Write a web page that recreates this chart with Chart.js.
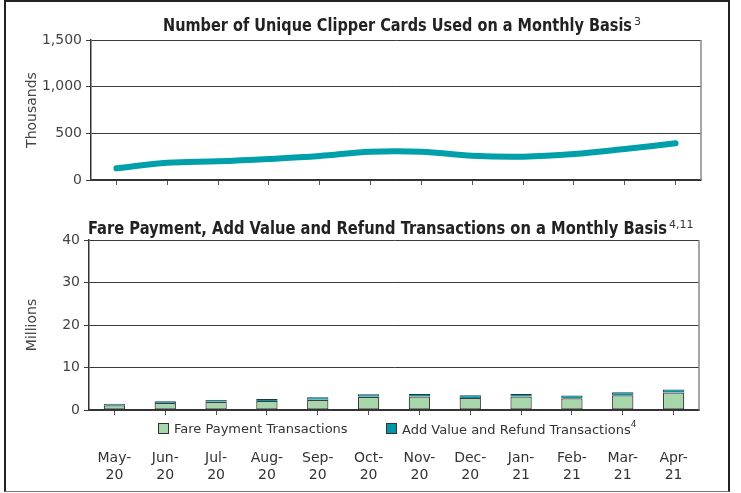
<!DOCTYPE html>
<html>
<head>
<meta charset="utf-8">
<script src="https://cdn.jsdelivr.net/npm/chart.js@4.4.0/dist/chart.umd.min.js"></script>
<style>
  html, body { margin: 0; padding: 0; background: #fff; }
  #wrap { position: relative; width: 741px; height: 493px; overflow: hidden; background: #fff; }
  canvas { position: absolute; left: 0; }
  #frame {
    position: absolute; left: 4px; top: 0; width: 722px; height: 489px;
    border: 2px solid #222; border-bottom: 1px solid #777; pointer-events: none;
  }
  .legend { position: absolute; top: 421px; font: 13px "DejaVu Sans", sans-serif; color: #333; white-space: nowrap; }
  .legend .box { position: absolute; top: 2px; width: 9px; height: 9px; border: 1px solid #333; }
  .legend span.txt { position: absolute; top: 0; }
  .legend sup { font-size: 9px; position: relative; top: -2px; }
</style>
</head>
<body>
<div id="wrap">
  <canvas id="cards" width="741" height="200" style="top:0"></canvas>
  <canvas id="trans" width="741" height="298" style="top:195px"></canvas>
  <div class="legend" id="legend"></div>
  <div id="frame"></div>
</div>
<script>
// Datos
const months = [
  ['May-', '20'], ['Jun-', '20'], ['Jul-', '20'], ['Aug-', '20'],
  ['Sep-', '20'], ['Oct-', '20'], ['Nov-', '20'], ['Dec-', '20'],
  ['Jan-', '21'], ['Feb-', '21'], ['Mar-', '21'], ['Apr-', '21']
];
// tarjetas unicas (miles)
const uniqueCards = [125, 185, 200, 225, 257, 303, 303, 260, 250, 278, 332, 393];
// transacciones (millones)
const farePayments = [1.1, 1.65, 1.95, 2.1, 2.4, 3.1, 3.15, 2.8, 3.15, 2.75, 3.45, 4.1];
const addValueRefunds = [0.35, 0.4, 0.4, 0.5, 0.6, 0.6, 0.6, 0.65, 0.6, 0.65, 0.7, 0.75];

const titleTop = 'Number of Unique Clipper Cards Used on a Monthly Basis';
const titleBottom = 'Fare Payment, Add Value and Refund Transactions on a Monthly Basis';

const tickFont = { family: '"DejaVu Sans", sans-serif', size: 14 };
const gridColor = '#3a3a3a';
const fareColor = '#a8d5aa';
const addColor = '#0098a8';
const lineColor = '#00a0aa';

// Titulo condensado con superindice
const supTitle = {
  id: 'supTitle',
  afterDraw(chart, args, opts) {
    const ctx = chart.ctx;
    ctx.save();
    ctx.font = 'bold 18px "Liberation Sans Narrow", "DejaVu Sans Condensed", sans-serif';
    ctx.fillStyle = '#222';
    ctx.textBaseline = 'alphabetic';
    const w = ctx.measureText(opts.text).width;
    const sx = opts.width / w;
    ctx.translate(opts.x, opts.y);
    ctx.scale(sx, 1);
    ctx.fillText(opts.text, 0, 0);
    ctx.restore();
    ctx.save();
    ctx.font = '11px "DejaVu Sans", sans-serif';
    ctx.fillStyle = '#333';
    ctx.fillText(opts.sup, opts.x + opts.width + 2, opts.y - 6);
    ctx.restore();
  }
};

// Borde derecho del area del grafico
const rightBorder = {
  id: 'rightBorder',
  afterDraw(chart) {
    const a = chart.chartArea;
    const ctx = chart.ctx;
    ctx.save();
    ctx.strokeStyle = '#888';
    ctx.lineWidth = 1.5;
    ctx.beginPath();
    ctx.moveTo(a.right, a.top);
    ctx.lineTo(a.right, a.bottom);
    ctx.stroke();
    ctx.restore();
  }
};

function yAxis(max, step, width, title, fmt) {
  return {
    min: 0, max: max,
    ticks: { stepSize: step, padding: 4, color: '#444', font: tickFont, callback: fmt },
    grid: { color: gridColor, lineWidth: 1, tickLength: 5, drawTicks: true },
    border: { color: '#333', width: 1.5 },
    title: { display: true, text: title, color: '#444', font: tickFont, padding: { top: 24, bottom: 0 } },
    afterFit(scale) { scale.width = width; }
  };
}

new Chart(document.getElementById('cards'), {
  type: 'line',
  data: {
    labels: months,
    datasets: [{
      data: uniqueCards,
      borderColor: lineColor,
      borderWidth: 6,
      borderCapStyle: 'round',
      borderJoinStyle: 'round',
      tension: 0.35,
      pointRadius: 0,
      fill: false
    }]
  },
  options: {
    responsive: false,
    animation: false,
    devicePixelRatio: 1,
    layout: { padding: { top: 40, right: 40, left: 0, bottom: 0 } },
    plugins: {
      legend: { display: false },
      tooltip: { enabled: false },
      supTitle: { text: titleTop, sup: '3', x: 163, y: 31, width: 469 }
    },
    scales: {
      x: {
        offset: true,
        ticks: { display: false },
        grid: { offset: false, drawOnChartArea: false, drawTicks: true, tickLength: 5, color: '#555' },
        border: { color: '#333', width: 1.5 },
        afterFit(scale) { scale.height = 20; }
      },
      y: yAxis(1500, 500, 91, 'Thousands', v => v.toLocaleString('en-US'))
    }
  },
  plugins: [supTitle, rightBorder]
});

new Chart(document.getElementById('trans'), {
  type: 'bar',
  data: {
    labels: months,
    datasets: [
      {
        label: 'Fare Payment Transactions',
        data: farePayments,
        backgroundColor: fareColor,
        borderColor: '#3d3d3d',
        borderWidth: 1.2,
        borderSkipped: false
      },
      {
        label: 'Add Value and Refund Transactions',
        data: addValueRefunds,
        backgroundColor: addColor,
        borderColor: '#1d3b3d',
        borderWidth: { top: 1, left: 1, right: 1, bottom: 0 },
        borderSkipped: false
      }
    ]
  },
  options: {
    responsive: false,
    animation: false,
    devicePixelRatio: 1,
    layout: { padding: { top: 45, right: 42, left: 0, bottom: 0 } },
    datasets: { bar: { barPercentage: 0.42, categoryPercentage: 1.0 } },
    plugins: {
      legend: { display: false },
      tooltip: { enabled: false },
      supTitle: { text: titleBottom, sup: '4,11', x: 88, y: 39, width: 579 }
    },
    scales: {
      x: {
        stacked: true,
        offset: true,
        ticks: { color: '#333', font: tickFont, padding: 35, maxRotation: 0, autoSkip: false },
        grid: { offset: false, drawOnChartArea: false, drawTicks: true, tickLength: 5, color: '#555' },
        border: { color: '#333', width: 1.5 },
        afterFit(scale) { scale.height = 83; }
      },
      y: Object.assign(yAxis(40, 10, 89, 'Millions'), { stacked: true })
    }
  },
  plugins: [supTitle, rightBorder]
});

// Leyenda en HTML entre el eje y las etiquetas
const legendItems = [
  { text: 'Fare Payment Transactions', sup: '', color: fareColor, x: 158 },
  { text: 'Add Value and Refund Transactions', sup: '4', color: addColor, x: 386 }
];
const legend = document.getElementById('legend');
legendItems.forEach(item => {
  const box = document.createElement('div');
  box.className = 'box';
  box.style.left = item.x + 'px';
  box.style.background = item.color;
  const txt = document.createElement('span');
  txt.className = 'txt';
  txt.style.left = (item.x + 16) + 'px';
  txt.innerHTML = item.text + (item.sup ? '<sup>' + item.sup + '</sup>' : '');
  legend.appendChild(box);
  legend.appendChild(txt);
});
</script>
</body>
</html>
